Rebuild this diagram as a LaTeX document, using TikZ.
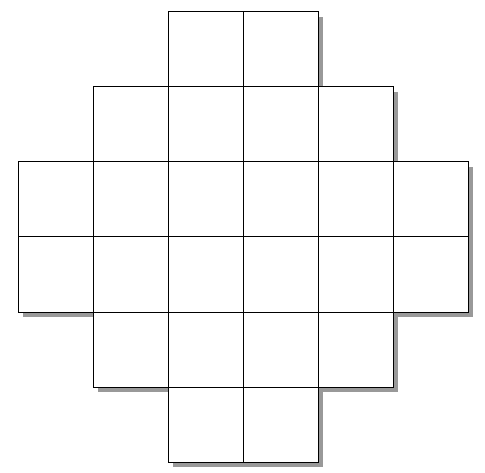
\documentclass[tikz,border=0pt]{standalone}
\begin{document}
\begin{tikzpicture}[x=1pt,y=1pt,
  cell/.style={draw=black,line width=1pt,fill=white,minimum size=75pt,inner sep=0pt,outer sep=0pt},
  shade/.style={fill=black!40,draw=none,minimum size=75pt,inner sep=0pt,outer sep=0pt}]
\useasboundingbox (0,0) rectangle (485,472);
% shadows first
\foreach \r/\cols in {0/{2,3},1/{1,2,3,4},2/{0,1,2,3,4,5},3/{0,1,2,3,4,5},4/{1,2,3,4},5/{2,3}}{
  \foreach \c in \cols{
    \node[shade] at ({18+75*\c+37.5+5},{472-(12+75*\r+37.5)-5}) {};
  }
}
% cells
\foreach \r/\cols in {0/{2,3},1/{1,2,3,4},2/{0,1,2,3,4,5},3/{0,1,2,3,4,5},4/{1,2,3,4},5/{2,3}}{
  \foreach \c in \cols{
    \node[cell] (c\r\c) at ({18+75*\c+37.5},{472-(12+75*\r+37.5)}) {};
  }
}
\end{tikzpicture}
\end{document}
